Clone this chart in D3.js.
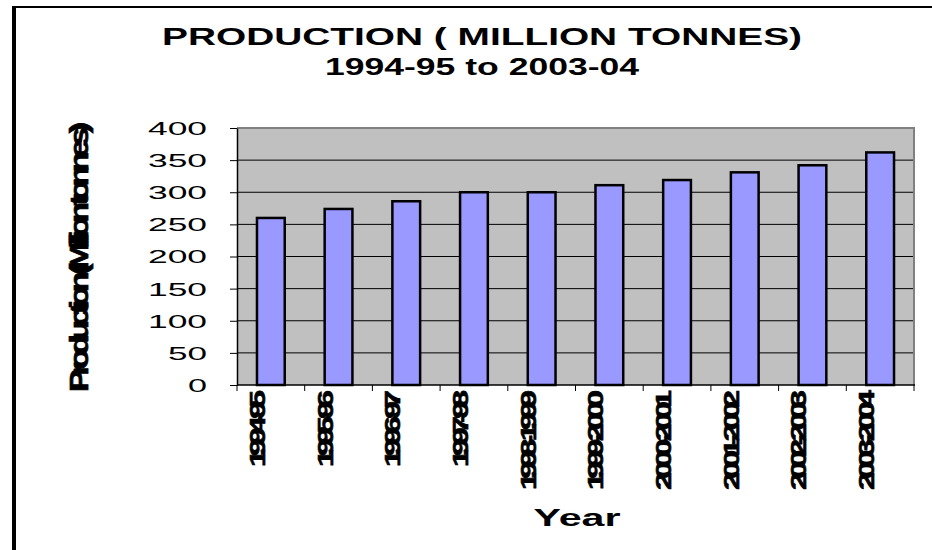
<!DOCTYPE html>
<html>
<head>
<meta charset="utf-8">
<script src="https://cdn.jsdelivr.net/npm/d3@7"></script>
<style>
  html, body { margin: 0; padding: 0; background: #fff; }
  svg { display: block; font-family: "Liberation Sans", Arial, sans-serif; }
</style>
</head>
<body>
<svg id="chart" width="932" height="550"></svg>
<script>
const categories = ["1994-95","1995-96","1996-97","1997-98","1998-1999","1999-2000","2000-2001","2001-2002","2002-2003","2003-2004"];
const production = [260, 274, 286, 300, 300, 311, 319, 331, 342, 362];
const yTicks = [0, 50, 100, 150, 200, 250, 300, 350, 400];
const titleLines = ["PRODUCTION ( MILLION TONNES)", "1994-95 to 2003-04"];
const xTitle = "Year";
const yTitle = "Production (Million tonnes)";

const svg = d3.select("#chart");
const plot = {left: 237, right: 914, top: 128, bottom: 385};

// outer frame
svg.append("rect").attr("x", 14).attr("y", 7).attr("width", 940).attr("height", 560)
  .attr("fill", "#fff").attr("stroke", "#000").attr("stroke-width", 2);
svg.append("line").attr("x1", 14).attr("x2", 14).attr("y1", 6).attr("y2", 560)
  .attr("stroke", "#000").attr("stroke-width", 4);

const x = d3.scaleBand().domain(categories).range([plot.left, plot.right]).paddingInner(0).paddingOuter(0);
const y = d3.scaleLinear().domain([0, 400]).range([plot.bottom, plot.top]);

// plot area
svg.append("rect").attr("x", plot.left).attr("y", plot.top)
  .attr("width", plot.right - plot.left).attr("height", plot.bottom - plot.top)
  .attr("fill", "#C0C0C0");

// gridlines
svg.append("g").selectAll("line").data(yTicks.filter(d => d > 0 && d < 400)).join("line")
  .attr("x1", plot.left).attr("x2", plot.right)
  .attr("y1", d => y(d)).attr("y2", d => y(d))
  .attr("stroke", "#000").attr("stroke-width", 1);

// plot border top/right (gray)
svg.append("path")
  .attr("d", `M${plot.left},${plot.top}H${plot.right}V${plot.bottom}`)
  .attr("fill", "none").attr("stroke", "#808080").attr("stroke-width", 2);

// bars
const bw = x.bandwidth() * 0.41;
svg.append("g").selectAll("rect").data(categories).join("rect")
  .attr("x", d => x(d) + x.bandwidth() / 2 - bw / 2)
  .attr("y", (d, i) => y(production[i]))
  .attr("width", bw)
  .attr("height", (d, i) => y(0) - y(production[i]))
  .attr("fill", "#9999FF").attr("stroke", "#000").attr("stroke-width", 2.5);

// y axis
const yAxis = svg.append("g").attr("transform", `translate(${plot.left},0)`)
  .call(d3.axisLeft(y).tickValues(yTicks).tickSize(7).tickSizeOuter(0).tickFormat(d3.format("d")));
yAxis.select(".domain").attr("stroke", "#000").attr("stroke-width", 1.5);
yAxis.selectAll(".tick line").attr("stroke", "#000");
yAxis.selectAll(".tick text")
  .attr("font-size", 18).attr("fill", "#000")
  .attr("x", -30).attr("dy", "0.36em")
  .attr("text-anchor", "end")
  .attr("textLength", function() { return this.textContent.length * 20 - 1; })
  .attr("lengthAdjust", "spacingAndGlyphs");

// x axis line and ticks at band boundaries
svg.append("line").attr("x1", plot.left).attr("x2", plot.right + 1)
  .attr("y1", plot.bottom).attr("y2", plot.bottom).attr("stroke", "#000").attr("stroke-width", 1.5);
const boundaries = categories.map(c => x(c)).concat([plot.right]);
svg.append("g").selectAll("line").data(boundaries).join("line")
  .attr("x1", d => d).attr("x2", d => d)
  .attr("y1", plot.bottom).attr("y2", plot.bottom + 6)
  .attr("stroke", "#000");

// x labels (rotated, compressed)
svg.append("g").selectAll("text").data(categories).join("text")
  .attr("transform", d => `translate(${x(d) + x.bandwidth() / 2 - 6},390) rotate(-90) scale(1,0.7)`)
  .attr("text-anchor", "end")
  .attr("font-size", 32).attr("font-weight", "bold").attr("fill", "#000")
  .attr("stroke", "#000").attr("stroke-width", 0.9)
  .attr("textLength", d => d.length > 7 ? 100 : 77)
  .attr("lengthAdjust", "spacing")
  .text(d => d);

// titles
svg.append("text").attr("x", 482).attr("y", 45).attr("text-anchor", "middle")
  .attr("font-size", 23).attr("font-weight", "bold")
  .attr("textLength", 640).attr("lengthAdjust", "spacingAndGlyphs")
  .text(titleLines[0]);
svg.append("text").attr("x", 482).attr("y", 75).attr("text-anchor", "middle")
  .attr("font-size", 23).attr("font-weight", "bold")
  .attr("textLength", 314).attr("lengthAdjust", "spacingAndGlyphs")
  .text(titleLines[1]);

svg.append("text").attr("x", 577).attr("y", 526).attr("text-anchor", "middle")
  .attr("font-size", 23).attr("font-weight", "bold")
  .attr("textLength", 87).attr("lengthAdjust", "spacingAndGlyphs")
  .text(xTitle);

svg.append("text")
  .attr("transform", `translate(88,257) rotate(-90) scale(1,0.75)`)
  .attr("text-anchor", "middle")
  .attr("font-size", 34).attr("font-weight", "bold")
  .attr("stroke", "#000").attr("stroke-width", 1)
  .attr("textLength", 270).attr("lengthAdjust", "spacing")
  .text(yTitle);
</script>
</body>
</html>
